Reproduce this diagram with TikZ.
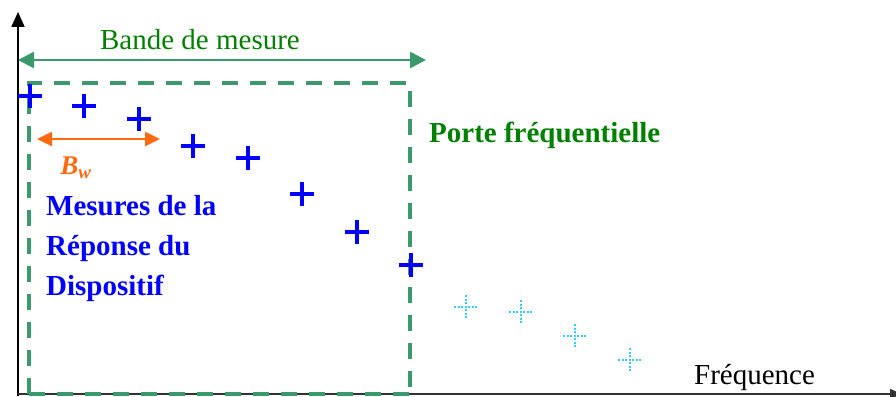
\documentclass[tikz,border=0pt]{standalone}
\usepackage{fontspec}
\setmainfont{Liberation Serif}
\usetikzlibrary{arrows.meta}
\definecolor{gatecol}{HTML}{3A9A6C}
\definecolor{txtgreen}{HTML}{008000}
\definecolor{measblue}{HTML}{0000FF}
\definecolor{extcyan}{HTML}{33CCFF}
\definecolor{bworange}{HTML}{FF6A10}
\tikzset{
  bplus/.pic={\draw[measblue, line width=4pt] (-12,0)--(12,0) (0,-12)--(0,12);},
  cplus/.pic={\draw[extcyan, line width=1.3pt, dash pattern=on 2pt off 1.5pt] (-12,0)--(12,0) (0,-12)--(0,12);},
  axisline/.style={black, line width=2pt},
  gatebox/.style={gatecol, line width=3.5pt, dash pattern=on 16pt off 12pt},
  bandarrow/.style={gatecol, line width=2.5pt, {Triangle[length=16pt,width=16pt]}-{Triangle[length=16pt,width=16pt]}},
  bwarrow/.style={bworange, line width=2.5pt, {Triangle[length=15pt,width=14pt]}-{Triangle[length=15pt,width=14pt]}},
  lbl/.style={font=\fontsize{29}{40}\selectfont, inner sep=0pt},
}
\begin{document}
\begin{tikzpicture}[x=1pt, y=-1pt]
\useasboundingbox (0,0) rectangle (896,396);
\clip (0,0) rectangle (896,396);
% axes
\coordinate (origin) at (18,394);
\coordinate (ytop) at (18,12);
\coordinate (xend) at (902,394);
\draw[axisline, -{Triangle[length=15pt,width=13pt]}] (18,396) -- (ytop);
\draw[black!80, line width=1.5pt, -{Triangle[length=12pt,width=10pt]}] (origin) -- (xend);
% frequency gate
\coordinate (gtl) at (29,83);
\coordinate (gbr) at (410,394);
\draw[gatebox] (gtl |- gbr) -- (gtl) -- (gbr |- gtl) -- (gbr);
\draw[gatebox] (gtl |- gbr) -- (gbr);
% measurement band
\coordinate (bl) at (18,60);
\coordinate (br) at (426,60);
\draw[bandarrow] (bl) -- (br);
\node[lbl, text=txtgreen] (band) at (200,40) {Bande de mesure};
% Bw
\coordinate (wl) at (37,139);
\coordinate (wr) at (160,139);
\draw[bwarrow] (wl) -- (wr);
\node[lbl, text=bworange, font=\fontsize{27}{30}\selectfont\bfseries\itshape] (bw) at (76,168) {B\textsubscript{w}};
% measurement points
\foreach \px/\py [count=\i] in {30/96, 84/106, 139/119, 193/146, 248/158, 302/194, 357/232, 411/265}
  \pic (m\i) at (\px,\py) {bplus};
\foreach \px/\py [count=\i] in {466/307, 521/312, 575/336, 630/360}
  \pic (e\i) at (\px,\py) {cplus};
% labels
\node[lbl, text=txtgreen, font=\fontsize{29}{40}\selectfont\bfseries, anchor=west] (gate) at (429,135) {Porte fréquentielle};
\node[lbl, text=measblue, font=\fontsize{29}{40}\selectfont\bfseries, anchor=north west, align=left] (meas) at (46,195) {Mesures de la\\Réponse du\\Dispositif};
\node[lbl, text=black, anchor=base west] (freq) at (694,384) {Fréquence};
\end{tikzpicture}
\end{document}
